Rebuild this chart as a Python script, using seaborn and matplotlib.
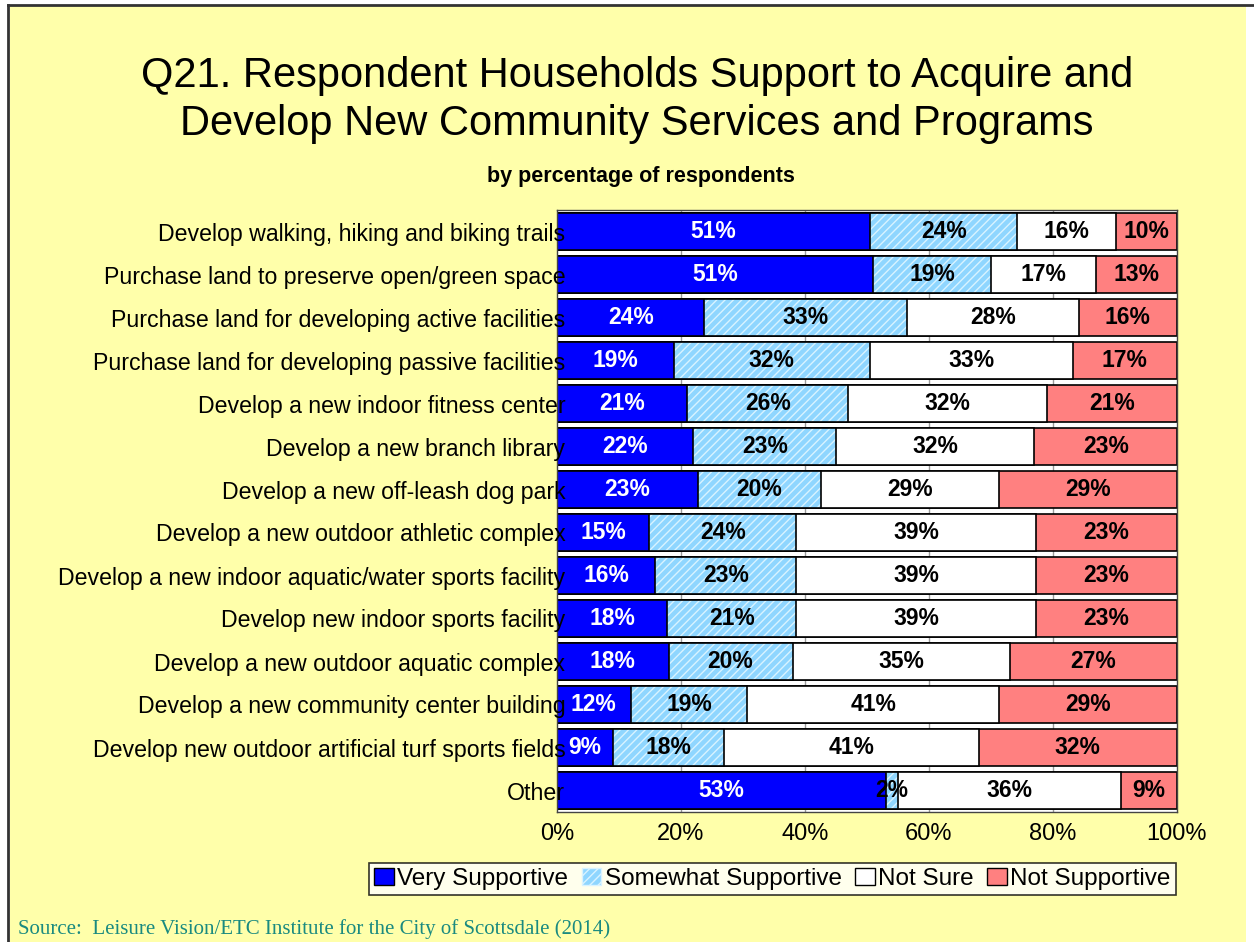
import pandas as pd
import numpy as np
import seaborn as sns
from matplotlib import pyplot as plt
from matplotlib.patches import Rectangle, Patch
from matplotlib.lines import Line2D

items = ["Develop walking, hiking and biking trails",
         "Purchase land to preserve open/green space",
         "Purchase land for developing active facilities",
         "Purchase land for developing passive facilities",
         "Develop a new indoor fitness center",
         "Develop a new branch library",
         "Develop a new off-leash dog park",
         "Develop a new outdoor athletic complex",
         "Develop a new indoor aquatic/water sports facility",
         "Develop new indoor sports facility",
         "Develop a new outdoor aquatic complex",
         "Develop a new community center building",
         "Develop new outdoor artificial turf sports fields",
         "Other"]
very = [51, 51, 24, 19, 21, 22, 23, 15, 16, 18, 18, 12, 9, 53]
somewhat = [24, 19, 33, 32, 26, 23, 20, 24, 23, 21, 20, 19, 18, 2]
not_sure = [16, 17, 28, 33, 32, 32, 29, 39, 39, 39, 35, 41, 41, 36]
not_supp = [10, 13, 16, 17, 21, 23, 29, 23, 23, 23, 27, 29, 32, 9]
series = ["Very Supportive", "Somewhat Supportive", "Not Sure", "Not Supportive"]
colors = ["#0000FF", "#8FD6FF", "#FFFFFF", "#FF8080"]

raw = np.array([very, somewhat, not_sure, not_supp], dtype=float)
share = raw / raw.sum(axis=0) * 100  # 100% stacked like the original chart
cum = np.cumsum(share, axis=0)

df = pd.DataFrame({"item": items})
for i, s in enumerate(series):
    df[s] = cum[i]

plt.rcParams["font.family"] = ["Liberation Sans", "DejaVu Sans"]
plt.rcParams["hatch.linewidth"] = 1.0

fig = plt.figure(figsize=(12.54, 9.42), dpi=100, facecolor="white")
fig.patches.append(Rectangle((10 / 1254, 0), 1236 / 1254, 1 - 5 / 942, transform=fig.transFigure,
                             facecolor="#FFFFAA", edgecolor="none", zorder=-5))
fig.lines.append(Line2D([8 / 1254, 8 / 1254], [0, 1 - 5 / 942], transform=fig.transFigure, color="#333333", lw=2))
fig.lines.append(Line2D([8 / 1254, 1], [1 - 5 / 942, 1 - 5 / 942], transform=fig.transFigure, color="#333333", lw=2))

ax = fig.add_axes([557 / 1254, 1 - 812 / 942, 620 / 1254, 602 / 942])
ax.set_facecolor("white")
for g in [20, 40, 60, 80]:
    ax.axvline(g, color="#999999", lw=1, zorder=0)

bw = 0.84
for i in range(3, -1, -1):
    s = series[i]
    if i == 1:
        sns.barplot(data=df, x=s, y="item", orient="y", color=colors[i], width=bw,
                    hatch="////", edgecolor="#D9F3FF", linewidth=0, saturation=1, ax=ax)
        sns.barplot(data=df, x=s, y="item", orient="y", fill=False, width=bw,
                    edgecolor="black", linewidth=1.2, ax=ax)
    else:
        sns.barplot(data=df, x=s, y="item", orient="y", color=colors[i], width=bw,
                    edgecolor="black", linewidth=1.2, saturation=1, ax=ax)

for i in range(4):
    for r in range(len(items)):
        center = cum[i, r] - share[i, r] / 2
        ax.text(center, r, f"{int(raw[i, r])}%", ha="center", va="center", zorder=4,
                fontsize=16.5, fontweight="bold", color="white" if i == 0 else "black")

ax.set_xlim(0, 100)
ax.set_ylim(len(items) - 0.5, -0.5)
ax.set_xticks([0, 20, 40, 60, 80, 100])
ax.set_xticklabels([f"{t}%" for t in [0, 20, 40, 60, 80, 100]], fontsize=17)
ax.tick_params(axis="y", labelsize=16.7, length=0, pad=-6)
ax.tick_params(axis="x", length=0, pad=8)
ax.set_axisbelow(False)
ax.set_xlabel("")
ax.set_ylabel("")
for sp in ax.spines.values():
    sp.set_color("#444444")
    sp.set_linewidth(1)

fig.text(0.508, 0.894, "Q21. Respondent Households Support to Acquire and\nDevelop New Community Services and Programs",
         ha="center", va="center", fontsize=30, linespacing=1.25)
fig.text(0.511, 0.813, "by percentage of respondents", ha="center", va="center",
         fontsize=15.5, fontweight="bold")

handles = [Patch(facecolor=colors[0], edgecolor="black"),
           Patch(facecolor=colors[1], edgecolor="#D9F3FF", hatch="////"),
           Patch(facecolor=colors[2], edgecolor="black"),
           Patch(facecolor=colors[3], edgecolor="black")]
leg = fig.legend(handles, series, loc="center", bbox_to_anchor=(0.616, 0.067), ncol=4,
                 fontsize=17.5, frameon=True, fancybox=False, edgecolor="black",
                 handlelength=0.8, handleheight=0.7, handletextpad=0.15, columnspacing=0.55,
                 borderpad=0.2, borderaxespad=0)
leg.get_frame().set_linewidth(1.2)

fig.text(18 / 1254, 1 - 929 / 942, "Source:  Leisure Vision/ETC Institute for the City of Scottsdale (2014)",
         ha="left", va="center", fontsize=15, color="#1A8A80", family="Liberation Serif")

fig.savefig("out.png", dpi=100, facecolor=fig.get_facecolor())
